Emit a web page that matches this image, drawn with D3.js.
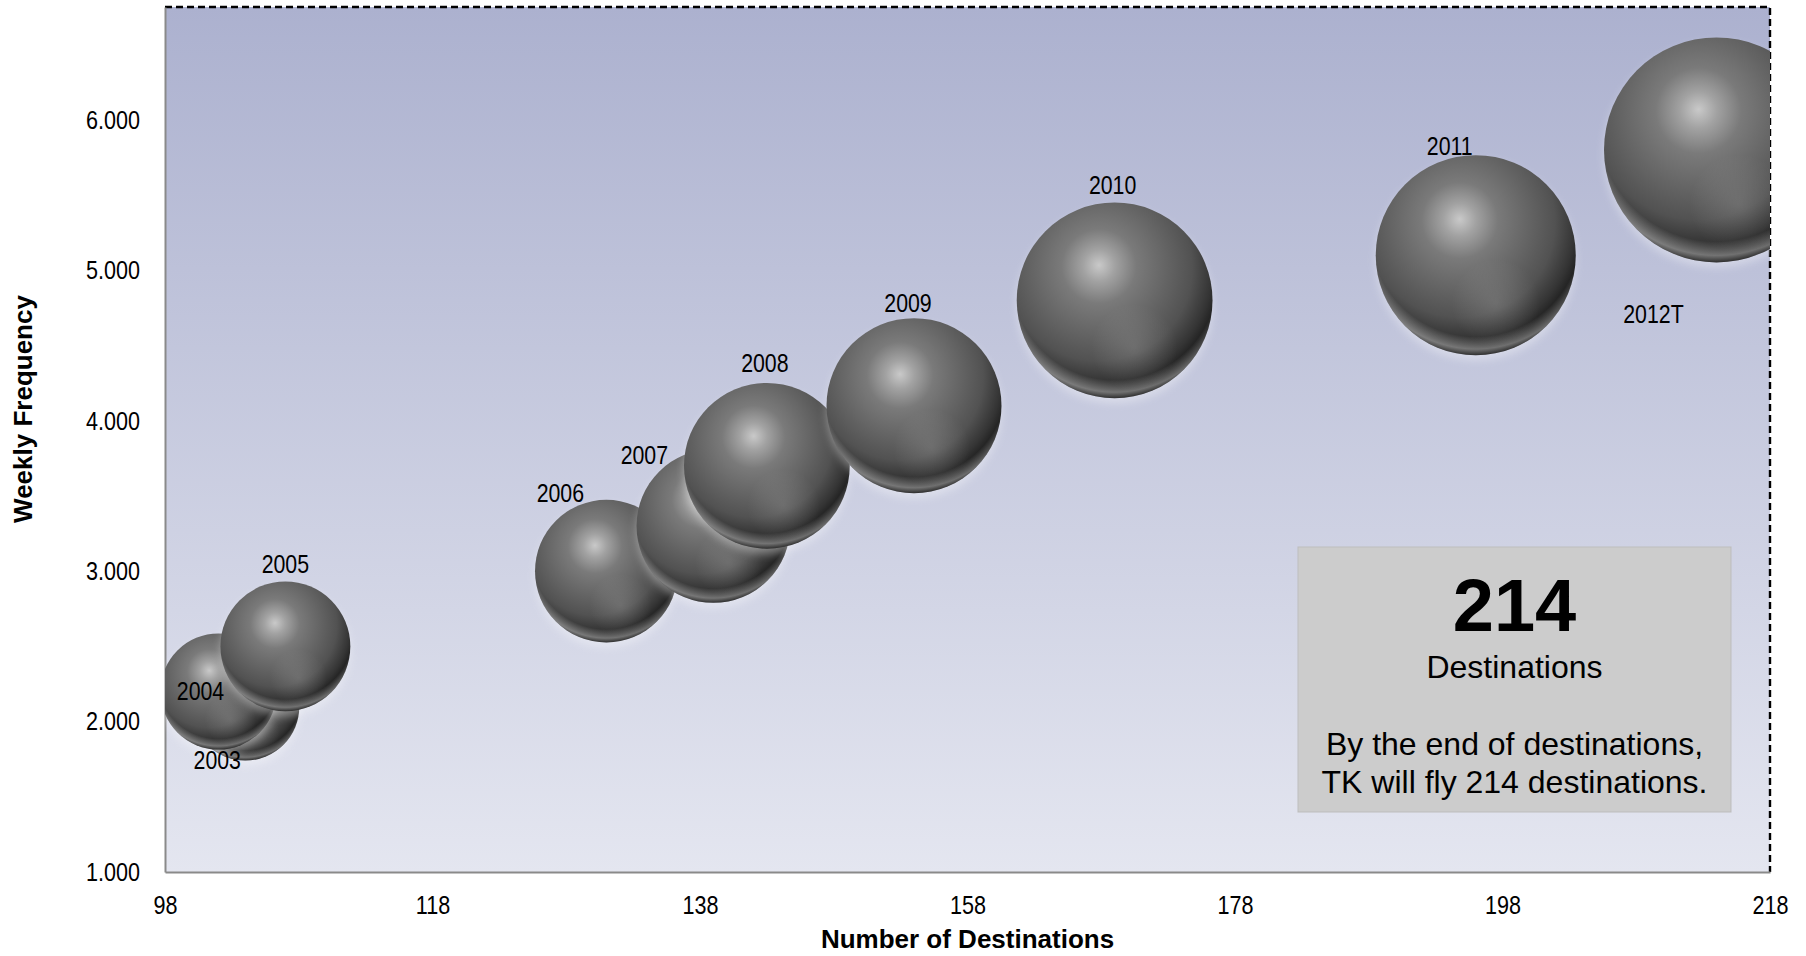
<!DOCTYPE html>
<html>
<head>
<meta charset="utf-8">
<script src="https://cdn.jsdelivr.net/npm/d3@7"></script>
<style>
  html, body { margin: 0; padding: 0; background: #ffffff; }
  svg { display: block; }
  .narrow { font-family: "Liberation Sans Narrow", "Arial Narrow", "Liberation Sans", Arial, sans-serif; font-size: 26px; fill: #000; }
  .title { font-family: "Liberation Sans", Arial, sans-serif; font-weight: bold; font-size: 26px; fill: #000; }
  .box-text { font-family: "Liberation Sans", Arial, sans-serif; fill: #000; }
</style>
</head>
<body>
<svg id="chart" width="1806" height="956"></svg>
<script>
// Turkish Airlines network growth: destinations vs. weekly frequency, bubble = traffic volume
const years = ["2003", "2004", "2005", "2006", "2007", "2008", "2009", "2010", "2011", "2012T"];
const destinations = [104, 102, 107, 131, 139, 143, 154, 169, 196, 214];
const weeklyFrequency = [2100, 2200, 2500, 3000, 3300, 3700, 4100, 4800, 5100, 5800];
const bubbleSize = [9.7, 11.2, 14.0, 16.9, 19.6, 22.8, 25.4, 31.8, 33.2, 42.0];

const xTicks = [98, 118, 138, 158, 178, 198, 218];
const yTicks = [1000, 2000, 3000, 4000, 5000, 6000];

// Label placement around each bubble (dx, dy from the bubble centre)
const labelOffsets = [[-28, 53], [-18, -1], [0, -82], [-46, -78], [-69, -71],
                      [-2, -103], [-6, -103], [-2, -115], [-26, -109], [-63, 164]];

const calloutLines = ["214", "Destinations", "By the end of destinations,", "TK will fly 214 destinations."];

const W = 1806, H = 956;
const margin = { top: 7, right: 36, bottom: 84, left: 165 };
const plotW = W - margin.left - margin.right;
const plotH = H - margin.top - margin.bottom;

const x = d3.scaleLinear().domain([98, 218]).range([margin.left, margin.left + plotW]);
const y = d3.scaleLinear().domain([1000, 6750]).range([margin.top + plotH, margin.top]);
const r = d3.scaleSqrt().domain([0, 42]).range([0, 112.5]);

const locale = d3.formatLocale({ decimal: ",", thousands: ".", grouping: [3], currency: ["", ""] });
const fmt = locale.format(",.0f");

// squeeze text horizontally to a narrow face
function condense(sel, k) {
  sel.each(function () {
    const len = this.getComputedTextLength();
    d3.select(this).attr("textLength", len * k).attr("lengthAdjust", "spacingAndGlyphs");
  });
}

const svg = d3.select("#chart");
const defs = svg.append("defs");

// plot background
const bg = defs.append("linearGradient").attr("id", "plotBg")
  .attr("x1", 0).attr("y1", 0).attr("x2", 0).attr("y2", 1);
bg.append("stop").attr("offset", "0%").attr("stop-color", "#acb1cf");
bg.append("stop").attr("offset", "100%").attr("stop-color", "#e4e6f0");

// sphere body shading
const body = defs.append("radialGradient").attr("id", "sphereBody")
  .attr("cx", 0.42).attr("cy", 0.34).attr("r", 0.68).attr("fx", 0.42).attr("fy", 0.32);
[[0, "#c9c9c9"], [0.12, "#a2a2a2"], [0.28, "#7a7a7a"], [0.5, "#656565"],
 [0.7, "#525252"], [0.85, "#343434"], [1, "#0c0c0c"]]
  .forEach(([o, c]) => body.append("stop").attr("offset", o).attr("stop-color", c));

// light rim along the lower edge
const rim = defs.append("radialGradient").attr("id", "sphereRim")
  .attr("cx", 0.5).attr("cy", 0.38).attr("r", 0.62);
[[0, 0], [0.85, 0], [0.95, 0.38], [1, 0.12]]
  .forEach(([o, a]) => rim.append("stop").attr("offset", o).attr("stop-color", "#ffffff").attr("stop-opacity", a));

// soft secondary glow at lower right
const glow = defs.append("radialGradient").attr("id", "sphereGlow")
  .attr("cx", 0.6).attr("cy", 0.74).attr("r", 0.22);
glow.append("stop").attr("offset", 0).attr("stop-color", "#ffffff").attr("stop-opacity", 0.14);
glow.append("stop").attr("offset", 1).attr("stop-color", "#ffffff").attr("stop-opacity", 0);

const halo = defs.append("filter").attr("id", "halo").attr("x", "-30%").attr("y", "-30%").attr("width", "160%").attr("height", "160%");
halo.append("feGaussianBlur").attr("stdDeviation", 4);

defs.append("clipPath").attr("id", "plotClip")
  .append("rect").attr("x", margin.left).attr("y", margin.top).attr("width", plotW).attr("height", plotH);

// plot area
svg.append("rect")
  .attr("x", margin.left).attr("y", margin.top)
  .attr("width", plotW).attr("height", plotH)
  .attr("fill", "url(#plotBg)");

// dashed border on top and right
svg.append("path")
  .attr("d", `M${margin.left},${margin.top}H${margin.left + plotW}V${margin.top + plotH}`)
  .attr("fill", "none").attr("stroke", "#000").attr("stroke-width", 2.4)
  .attr("stroke-dasharray", "7,4");

// axes
const yAxis = svg.append("g")
  .attr("transform", `translate(${margin.left},0)`)
  .call(d3.axisLeft(y).tickValues(yTicks).tickFormat(fmt).tickSize(0).tickSizeOuter(0).tickPadding(25));
yAxis.select(".domain").attr("stroke", "#8a8a8a").attr("stroke-width", 2);
yAxis.selectAll("text").attr("class", "narrow").attr("font-family", null).attr("font-size", null).attr("fill", null)
  .call(condense, 0.83);

const xAxis = svg.append("g")
  .attr("transform", `translate(0,${margin.top + plotH})`)
  .call(d3.axisBottom(x).tickValues(xTicks).tickFormat(d3.format("d")).tickSize(0).tickSizeOuter(0).tickPadding(24));
xAxis.select(".domain").attr("stroke", "#8a8a8a").attr("stroke-width", 2);
xAxis.selectAll("text").attr("class", "narrow").attr("font-family", null).attr("font-size", null).attr("fill", null)
  .call(condense, 0.83);

// bubbles
const data = years.map((yr, i) => ({
  year: yr, dest: destinations[i], freq: weeklyFrequency[i], size: bubbleSize[i],
  off: labelOffsets[i]
}));

const bubbles = svg.append("g").attr("clip-path", "url(#plotClip)");
const g = bubbles.selectAll("g.bubble").data(data).join("g").attr("class", "bubble");

g.append("circle")
  .attr("cx", d => x(d.dest)).attr("cy", d => y(d.freq) + 5)
  .attr("r", d => r(d.size))
  .attr("fill", "#ffffff").attr("opacity", 0.35).attr("filter", "url(#halo)");
g.append("circle")
  .attr("cx", d => x(d.dest)).attr("cy", d => y(d.freq))
  .attr("r", d => r(d.size)).attr("fill", "url(#sphereBody)");
g.append("circle")
  .attr("cx", d => x(d.dest)).attr("cy", d => y(d.freq))
  .attr("r", d => r(d.size)).attr("fill", "url(#sphereRim)");
g.append("circle")
  .attr("cx", d => x(d.dest)).attr("cy", d => y(d.freq))
  .attr("r", d => r(d.size)).attr("fill", "url(#sphereGlow)");

// year labels
svg.append("g").selectAll("text").data(data).join("text")
  .attr("class", "narrow")
  .attr("x", d => x(d.dest) + d.off[0])
  .attr("y", d => y(d.freq) + d.off[1])
  .attr("dy", "0.35em")
  .attr("text-anchor", "middle")
  .text(d => d.year)
  .call(condense, 0.82);

// axis titles
svg.append("text").attr("class", "title")
  .attr("x", margin.left + plotW / 2).attr("y", 948)
  .attr("text-anchor", "middle")
  .text("Number of Destinations");

svg.append("text").attr("class", "title")
  .attr("transform", "translate(23,409) rotate(-90)")
  .attr("dy", "0.35em")
  .attr("text-anchor", "middle")
  .text("Weekly Frequency");

// callout box
const box = { x: 1298, y: 547, w: 433, h: 265 };
svg.append("rect")
  .attr("x", box.x).attr("y", box.y).attr("width", box.w).attr("height", box.h)
  .attr("fill", "#cccccc").attr("stroke", "#bdbdbd").attr("stroke-width", 1);

const cx = box.x + box.w / 2;
const lineSpec = [
  { size: 74, weight: "bold", base: 631 },
  { size: 32, weight: "normal", base: 678 },
  { size: 32, weight: "normal", base: 755 },
  { size: 32, weight: "normal", base: 793 }
];
svg.append("g").selectAll("text").data(calloutLines).join("text")
  .attr("class", "box-text")
  .attr("x", cx)
  .attr("y", (d, i) => lineSpec[i].base)
  .attr("text-anchor", "middle")
  .attr("font-size", (d, i) => lineSpec[i].size)
  .attr("font-weight", (d, i) => lineSpec[i].weight)
  .text(d => d);
</script>
</body>
</html>
